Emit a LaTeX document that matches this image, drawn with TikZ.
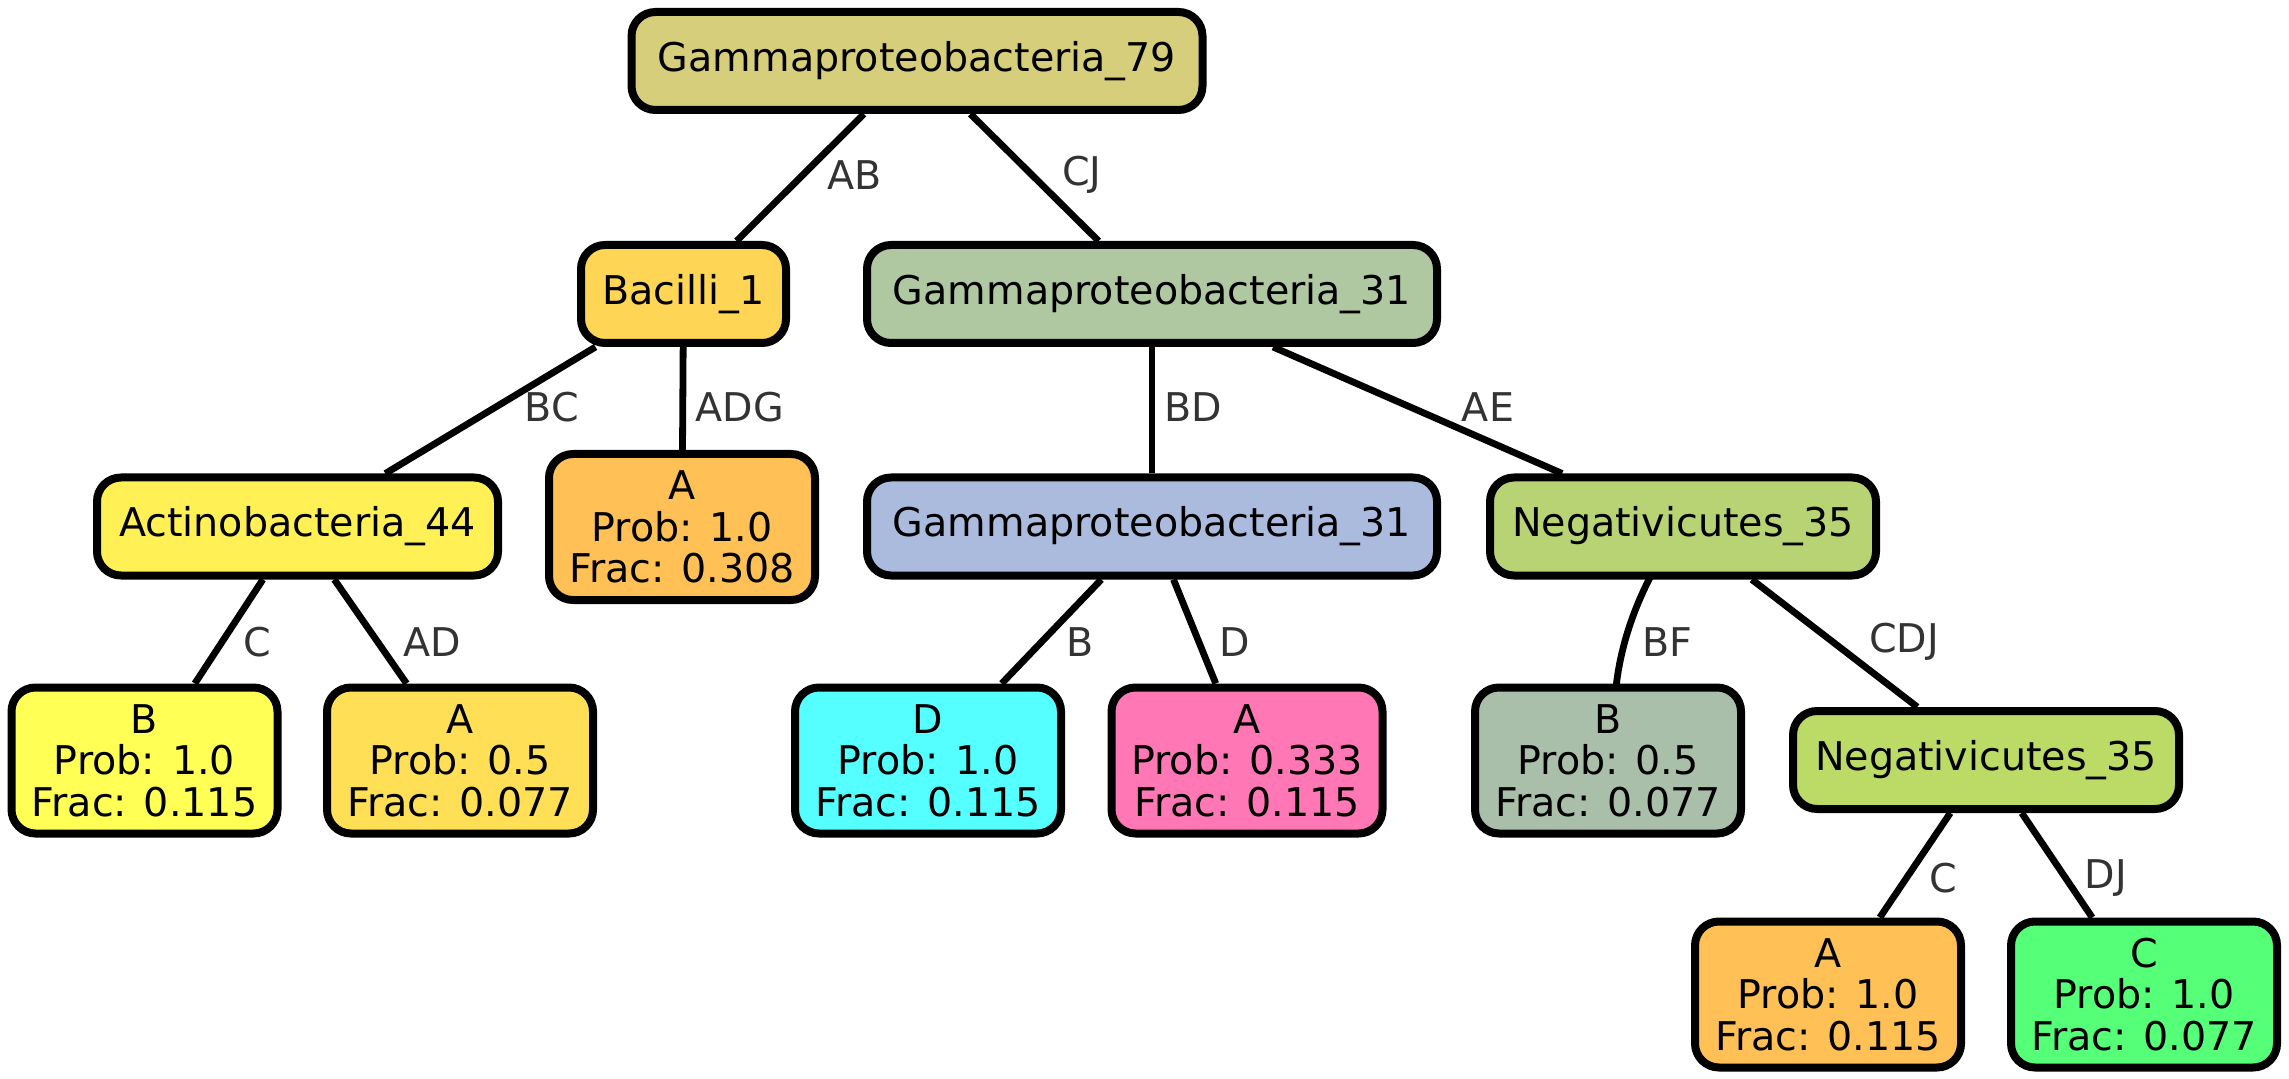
\documentclass[tikz,border=0pt]{standalone}
\usepackage{fontspec}
\setmainfont{DejaVu Sans}
\usetikzlibrary{calc}

\definecolor{cRoot}{HTML}{D7CE7C}
\definecolor{cBac}{HTML}{FFD555}
\definecolor{cGamTop}{HTML}{AFC8A2}
\definecolor{cAct}{HTML}{FFF055}
\definecolor{cOrange}{HTML}{FFC155}
\definecolor{cGamMid}{HTML}{AABBDD}
\definecolor{cNeg}{HTML}{B8D374}
\definecolor{cYel}{HTML}{FFFF55}
\definecolor{cGold}{HTML}{FFDF55}
\definecolor{cCyan}{HTML}{55FFFF}
\definecolor{cPink}{HTML}{FF77B4}
\definecolor{cSage}{HTML}{AABFAA}
\definecolor{cNegB}{HTML}{BBDA66}
\definecolor{cGreen}{HTML}{55FF77}
\definecolor{cLabel}{HTML}{333333}

\begin{document}
\begin{tikzpicture}[x=0.5pt,y=-0.5pt,
  box/.style={draw=black, line width=4pt, rounded corners=12pt, inner sep=0pt,
    align=center, text=black, font=\fontsize{19.8}{20.7}\selectfont},
  inner/.style={box, minimum height=49pt},
  leaf/.style={box, minimum width=133pt, minimum height=73pt},
  conn/.style={line width=3.4pt, draw=black},
  lbl/.style={font=\fontsize{19.8}{24}\selectfont, text=cLabel, inner sep=0pt}
]
\useasboundingbox (0,0) rectangle (2289,1079);

% internal nodes
\node[inner, fill=cRoot, minimum width=285.5pt] (root) at (917,61) {Gammaproteobacteria\_79};
\node[inner, fill=cBac, minimum width=102.5pt] (bac) at (683.5,294) {Bacilli\_1};
\node[inner, fill=cGamTop, minimum width=285pt] (gtop) at (1152,294) {Gammaproteobacteria\_31};
\node[inner, fill=cAct, minimum width=200.5pt] (act) at (297.5,526.5) {Actinobacteria\_44};
\node[inner, fill=cGamMid, minimum width=285pt] (gmid) at (1152,526.5) {Gammaproteobacteria\_31};
\node[inner, fill=cNeg, minimum width=193pt] (neg) at (1683,526.5) {Negativicutes\_35};
\node[inner, fill=cNegB, minimum width=193pt] (negb) at (1986,760) {Negativicutes\_35};

% leaves
\node[leaf, fill=cOrange] (aBac) at (682,527) {A\\Prob: 1.0\\Frac: 0.308};
\node[leaf, fill=cYel] (bAct) at (144.5,760.5) {B\\Prob: 1.0\\Frac: 0.115};
\node[leaf, fill=cGold] (aAct) at (460,760.5) {A\\Prob: 0.5\\Frac: 0.077};
\node[leaf, fill=cCyan] (dGam) at (928,760.5) {D\\Prob: 1.0\\Frac: 0.115};
\node[leaf, fill=cPink, minimum width=135.5pt] (aGam) at (1247,760.5) {A\\Prob: 0.333\\Frac: 0.115};
\node[leaf, fill=cSage] (bNeg) at (1608,760.5) {B\\Prob: 0.5\\Frac: 0.077};
\node[leaf, fill=cOrange] (aNeg) at (1828,994.5) {A\\Prob: 1.0\\Frac: 0.115};
\node[leaf, fill=cGreen] (cNeg) at (2144,994.5) {C\\Prob: 1.0\\Frac: 0.077};

% connectors
\draw[conn] (root) -- (bac);
\draw[conn] (root) -- (gtop);
\draw[conn] (bac) -- (act);
\draw[conn] (bac) -- (aBac);
\draw[conn] (gtop) -- (gmid);
\draw[conn] (gtop) -- (neg);
\draw[conn] (act) -- (bAct);
\draw[conn] (act) -- (aAct);
\draw[conn] (gmid) -- (dGam);
\draw[conn] (gmid) -- (aGam);
\draw[conn] ($(neg.south)+(-32,-4)$) .. controls (1632,612) and (1620,650) .. ($(bNeg.north)+(8,4)$);
\draw[conn] (neg) -- (negb);
\draw[conn] (negb) -- (aNeg);
\draw[conn] (negb) -- (cNeg);

% connector labels
\node[lbl] (lAB) at (855,175) {AB};
\node[lbl] (lCJ) at (1082,175) {CJ};
\node[lbl] (lBC) at (552,407) {BC};
\node[lbl] (lADG) at (740,407) {ADG};
\node[lbl] (lBD) at (1193,407) {BD};
\node[lbl] (lAE) at (1488,407) {AE};
\node[lbl] (lC1) at (257,642) {C};
\node[lbl] (lAD) at (432,642) {AD};
\node[lbl] (lB) at (1080,642) {B};
\node[lbl] (lD) at (1235,642) {D};
\node[lbl] (lBF) at (1667,642) {BF};
\node[lbl] (lCDJ) at (1904,642) {CDJ};
\node[lbl] (lC2) at (1943,878) {C};
\node[lbl] (lDJ) at (2106,878) {DJ};
\end{tikzpicture}
\end{document}
